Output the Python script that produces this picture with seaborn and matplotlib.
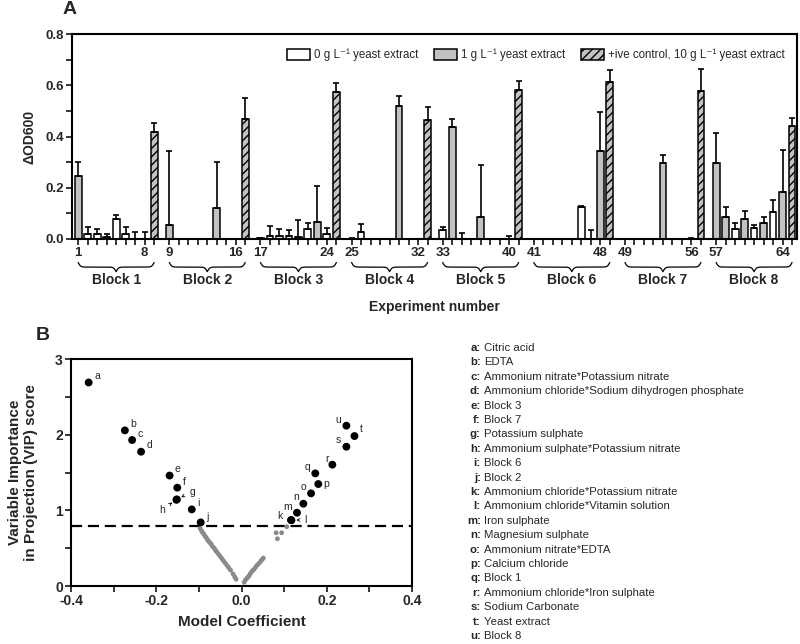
import numpy as np
import pandas as pd
import matplotlib
matplotlib.use("Agg")
import matplotlib.pyplot as plt
import seaborn as sns
from matplotlib.patches import Patch
from matplotlib.transforms import blended_transform_factory

nan = np.nan

# ---------------- Panel A data ----------------
exp_numbers = list(range(1, 65))
od_mean = [
    0.245, 0.020, 0.020, 0.009, 0.078, 0.018, 0.000, 0.000,
    0.056, nan, nan, nan, nan, 0.122, nan, nan,
    0.002, 0.012, 0.010, 0.013, 0.006, 0.040, 0.065, 0.020,
    0.000, 0.029, nan, nan, nan, 0.519, nan, nan,
    0.033, 0.438, 0.000, nan, 0.087, nan, nan, 0.000,
    nan, nan, nan, nan, nan, 0.124, 0.000, 0.344,
    nan, nan, nan, nan, 0.297, nan, nan, 0.000,
    0.298, 0.087, 0.039, 0.078, 0.043, 0.061, 0.107, 0.183,
]
od_err = [
    0.057, 0.025, 0.020, 0.011, 0.017, 0.027, 0.026, 0.026,
    0.288, nan, nan, nan, nan, 0.180, nan, nan,
    0.002, 0.038, 0.030, 0.020, 0.066, 0.023, 0.140, 0.022,
    0.003, 0.030, nan, nan, nan, 0.040, nan, nan,
    0.015, 0.029, 0.023, nan, 0.200, nan, nan, 0.010,
    nan, nan, nan, nan, nan, 0.004, 0.033, 0.153,
    nan, nan, nan, nan, 0.030, nan, nan, 0.005,
    0.114, 0.037, 0.022, 0.030, 0.013, 0.024, 0.047, 0.166,
]
yeast_level = [
    'G', 'W', 'W', 'W', 'W', 'W', 'W', 'W',
    'G', '', '', '', '', 'G', '', '',
    'W', 'W', 'W', 'W', 'W', 'W', 'G', 'W',
    'W', 'W', '', '', '', 'G', '', '',
    'W', 'G', 'W', '', 'G', '', '', 'W',
    '', '', '', '', '', 'W', 'W', 'G',
    '', '', '', '', 'G', '', '', 'W',
    'G', 'G', 'W', 'G', 'W', 'G', 'W', 'G',
]
control_mean = [0.418, 0.467, 0.575, 0.464, 0.582, 0.612, 0.579, 0.440]
control_err = [0.033, 0.084, 0.035, 0.052, 0.035, 0.048, 0.084, 0.033]
block_names = [f"Block {i}" for i in range(1, 9)]
group_labels = ["0 g L\u207b\u00b9 yeast extract", "1 g L\u207b\u00b9 yeast extract",
                "+ive control, 10 g L\u207b\u00b9 yeast extract"]

# ---------------- Panel B data ----------------
sig_letters = list("abcdefghijklmnopqrstu")
sig_coef = [-0.359, -0.274, -0.257, -0.236, -0.169, -0.151, -0.152, -0.153, -0.117, -0.096,
            0.116, 0.117, 0.130, 0.145, 0.163, 0.180, 0.173, 0.213, 0.246, 0.265, 0.246]
sig_vip = [2.69, 2.057, 1.93, 1.775, 1.46, 1.30, 1.145, 1.14, 1.013, 0.841,
           0.872, 0.870, 0.969, 1.088, 1.225, 1.348, 1.489, 1.604, 1.841, 1.982, 2.119]
ns_coef = [-0.097, -0.094, -0.092, -0.089, -0.086, -0.083, -0.080, -0.077, -0.074, -0.071,
           -0.068, -0.064, -0.061, -0.058, -0.054, -0.050, -0.046, -0.042, -0.038, -0.034,
           -0.030, -0.026, -0.020, -0.016, -0.013,
           0.006, 0.009, 0.012, 0.015, 0.018, 0.021, 0.025, 0.029, 0.033, 0.037, 0.041,
           0.045, 0.048, 0.051, 0.081, 0.094, 0.084, 0.106]
ns_vip = [0.76, 0.73, 0.71, 0.69, 0.66, 0.64, 0.61, 0.59, 0.57, 0.55,
          0.52, 0.50, 0.47, 0.45, 0.42, 0.39, 0.36, 0.33, 0.30, 0.27,
          0.24, 0.21, 0.16, 0.12, 0.09,
          0.05, 0.08, 0.10, 0.12, 0.14, 0.17, 0.20, 0.22, 0.25, 0.28, 0.30,
          0.33, 0.35, 0.37, 0.704, 0.704, 0.625, 0.784]
vip_threshold = 0.8
var_names = ["Citric acid", "EDTA", "Ammonium nitrate*Potassium nitrate",
             "Ammonium chloride*Sodium dihydrogen phosphate", "Block 3", "Block 7",
             "Potassium sulphate", "Ammonium sulphate*Potassium nitrate", "Block 6", "Block 2",
             "Ammonium chloride*Potassium nitrate", "Ammonium chloride*Vitamin solution",
             "Iron sulphate", "Magnesium sulphate", "Ammonium nitrate*EDTA", "Calcium chloride",
             "Block 1", "Ammonium chloride*Iron sulphate", "Sodium Carbonate", "Yeast extract",
             "Block 8"]

# ---------------- style ----------------
sns.set_theme(style="ticks")
plt.rcParams['font.family'] = ['Liberation Sans', 'DejaVu Sans']
plt.rcParams['hatch.color'] = 'black'
plt.rcParams['hatch.linewidth'] = 1.0
plt.rcParams['axes.linewidth'] = 1.5
plt.rcParams['xtick.major.width'] = 1.3
plt.rcParams['ytick.major.width'] = 1.3
plt.rcParams['xtick.minor.width'] = 1.3
plt.rcParams['ytick.minor.width'] = 1.3

fig = plt.figure(figsize=(8, 6.44), dpi=100)
ax1 = fig.add_axes([0.09, 0.629, 0.906, 0.318])
ax2 = fig.add_axes([0.089, 0.09, 0.426, 0.3525])

# positions
block_pitch = 9.6
def slot(n):
    return ((n - 1) // 8) * block_pitch + (n - 1) % 8
exp_pos = [slot(n) for n in exp_numbers]
ctrl_pos = [b * block_pitch + 8 for b in range(8)]

rows = []
for p, m, t in zip(exp_pos, od_mean, yeast_level):
    if not np.isnan(m):
        rows.append((p, m, group_labels[0] if t == 'W' else group_labels[1]))
for p, m in zip(ctrl_pos, control_mean):
    rows.append((p, m, group_labels[2]))
df = pd.DataFrame(rows, columns=["pos", "value", "group"])

grey = '#c2c2c2'
pal = {group_labels[0]: 'white', group_labels[1]: grey, group_labels[2]: grey}
sns.barplot(data=df, x="pos", y="value", hue="group", hue_order=group_labels,
            palette=pal, native_scale=True, dodge=False, width=0.72, errorbar=None,
            edgecolor='black', linewidth=1.1, saturation=1, legend=False, ax=ax1)
for patch in ax1.patches:
    cx = patch.get_x() + patch.get_width() / 2
    if any(abs(cx - c) < 0.1 for c in ctrl_pos):
        patch.set_hatch('////')

# error bars (upper only)
ep = [p for p, m in zip(exp_pos, od_mean) if not np.isnan(m)] + ctrl_pos
ev = [m for m in od_mean if not np.isnan(m)] + control_mean
ee = [e for e, m in zip(od_err, od_mean) if not np.isnan(m)] + control_err
ax1.errorbar(ep, ev, yerr=[np.zeros(len(ee)), ee], fmt='none', ecolor='black',
             elinewidth=1.2, capsize=2.5, capthick=1.2, zorder=1)

ax1.set_xlim(-0.65, 75.7)
ax1.set_ylim(0, 0.8)
ticks = sorted(exp_pos + ctrl_pos)
labels = []
for t in ticks:
    lab = ''
    for n, p in zip(exp_numbers, exp_pos):
        if abs(p - t) < 1e-6 and ((n - 1) % 8 in (0, 7)):
            lab = str(n)
    labels.append(lab)
ax1.set_xticks(ticks)
ax1.set_xticklabels(labels, fontsize=9.5, fontweight='bold')
ax1.set_yticks([0.0, 0.2, 0.4, 0.6, 0.8])
ax1.set_yticklabels(['0.0', '0.2', '0.4', '0.6', '0.8'], fontsize=9.5, fontweight='bold')
ax1.set_yticks([0.1, 0.3, 0.5, 0.7], minor=True)
ax1.tick_params(axis='both', which='both', length=4, direction='out', pad=2)
ax1.set_xlabel('')
ax1.set_ylabel('\u0394OD600', fontsize=10, fontweight='bold', labelpad=6)
for s in ax1.spines.values():
    s.set_visible(True)
    s.set_linewidth(1.5)
    s.set_color('black')

# braces and block names
tr = blended_transform_factory(ax1.transData, ax1.transAxes)
def brace(x0, x1, ytop, h):
    n = 201
    xs = np.linspace(x0, x1, n)
    half = xs[: n // 2 + 1]
    beta = 8.0
    yh = 1 / (1 + np.exp(-beta * (half - half[0]))) + 1 / (1 + np.exp(-beta * (half - half[-1])))
    yh = yh - yh.min()
    yh = yh / yh.max()
    ys = np.concatenate((yh, yh[-2::-1]))
    ax1.plot(xs, ytop - h * ys, color='black', lw=0.9, transform=tr, clip_on=False)

for b in range(8):
    x0 = exp_pos[b * 8]
    x1 = ctrl_pos[b]
    brace(x0, x1, -0.115, 0.045)
    ax1.text((x0 + x1) / 2, -0.2, block_names[b], transform=tr, ha='center', va='center',
             fontsize=10, fontweight='bold')
ax1.text(0.5, -0.33, 'Experiment number', transform=ax1.transAxes, ha='center', va='center',
         fontsize=10, fontweight='bold')

handles = [Patch(facecolor='white', edgecolor='black', linewidth=1.1),
           Patch(facecolor=grey, edgecolor='black', linewidth=1.1),
           Patch(facecolor=grey, edgecolor='black', linewidth=1.1, hatch='////')]
ax1.legend(handles, group_labels, loc='upper right', bbox_to_anchor=(0.997, 0.98), ncol=3,
           frameon=False, fontsize=8.3, handlelength=2.0, handleheight=1.1,
           columnspacing=1.4, handletextpad=0.3)

# ---------------- Panel B ----------------
sns.scatterplot(x=ns_coef, y=ns_vip, color='#8a8a8a', s=12, edgecolor='none', ax=ax2, zorder=2)
sns.scatterplot(x=sig_coef, y=sig_vip, color='black', s=32, edgecolor='none', ax=ax2, zorder=3)
ax2.axhline(vip_threshold, color='black', lw=1.6, ls=(0, (5, 2.6)), zorder=1)
ax2.set_xlim(-0.4, 0.4)
ax2.set_ylim(0, 3)
ax2.set_xticks([-0.4, -0.2, 0.0, 0.2, 0.4])
ax2.set_xticklabels(['-0.4', '-0.2', '0.0', '0.2', '0.4'], fontsize=10, fontweight='bold')
ax2.set_xticks([-0.3, -0.1, 0.1, 0.3], minor=True)
ax2.set_yticks([0, 1, 2, 3])
ax2.set_yticklabels(['0', '1', '2', '3'], fontsize=10, fontweight='bold')
ax2.set_yticks([0.5, 1.5, 2.5], minor=True)
ax2.tick_params(axis='both', which='both', length=4, direction='out', pad=2)
ax2.set_xlabel('Model Coefficient', fontsize=11, fontweight='bold', labelpad=5)
ax2.set_ylabel('Variable Importance\nin Projection (VIP) score', fontsize=11,
               fontweight='bold', labelpad=12, linespacing=1.25)
for s in ax2.spines.values():
    s.set_visible(True)
    s.set_linewidth(1.5)
    s.set_color('black')

offsets = {
    'a': (6, 4.5), 'b': (5.8, 4.5), 'c': (5.8, 4.5), 'd': (5.8, 4.5), 'e': (5.8, 4.5),
    'f': (4.8, 4.3), 'g': (11, 5.5), 'h': (-10.5, -7.2), 'i': (4.8, 4.8), 'j': (4.6, 4.2),
    'k': (-8.2, 2.9), 'l': (10.3, 0.3), 'm': (-7, 4.3), 'n': (-5.5, 4.6), 'o': (-5.5, 4.3),
    'p': (5.8, 0), 'q': (-5.8, 4.8), 'r': (-3.8, 4.3), 's': (-5.5, 4.6), 't': (4.6, 4.8),
    'u': (-5.8, 4.3),
}
arrowed = {'g', 'h', 'l'}
for letter, cx, cy in zip(sig_letters, sig_coef, sig_vip):
    dx, dy = offsets[letter]
    kw = {}
    if letter in arrowed:
        kw['arrowprops'] = dict(arrowstyle='->', lw=0.6, color='black', shrinkA=2, shrinkB=3.5,
                                mutation_scale=5)
    ax2.annotate(letter, xy=(cx, cy), xytext=(dx, dy), textcoords='offset points',
                 ha='center', va='center', fontsize=7.5, **kw)

# variable list
for i, (letter, name) in enumerate(zip(sig_letters, var_names)):
    ypx = 348 + i * 14.4
    yf = 1 - ypx / 644
    fig.text(0.601, yf, letter + ':', ha='right', va='center', fontsize=8.2, fontweight='bold')
    fig.text(0.605, yf, name, ha='left', va='center', fontsize=8.2)

fig.text(70 / 800, 1 - 10 / 644, 'A', fontsize=14, fontweight='bold', ha='center', va='center')
fig.text(43 / 800, 1 - 335 / 644, 'B', fontsize=14, fontweight='bold', ha='center', va='center')

fig.savefig('out.png', dpi=100)
